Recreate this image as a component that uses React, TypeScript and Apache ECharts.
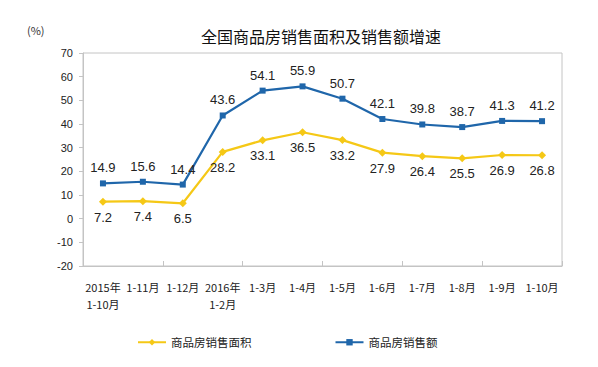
import React, { useEffect, useRef } from "react";
import * as echarts from "echarts";

const categories = ["2015年\n1-10月", "1-11月", "1-12月", "2016年\n1-2月", "1-3月", "1-4月", "1-5月", "1-6月", "1-7月", "1-8月", "1-9月", "1-10月"];
const areaGrowth = [7.2, 7.4, 6.5, 28.2, 33.1, 36.5, 33.2, 27.9, 26.4, 25.5, 26.9, 26.8];
const salesGrowth = [14.9, 15.6, 14.4, 43.6, 54.1, 55.9, 50.7, 42.1, 39.8, 38.7, 41.3, 41.2];
const titleText = "全国商品房销售面积及销售额增速";
const seriesNames = ["商品房销售面积", "商品房销售额"];

export default function App() {
  const ref = useRef<HTMLDivElement>(null);
  useEffect(() => {
    document.body.style.margin = "0";
    const chart = echarts.init(ref.current!, null, { renderer: "svg" });
    const font = "'Noto Sans CJK SC', sans-serif";
    const numFont = "'Liberation Sans', Arial, sans-serif";
    chart.setOption({
      animation: false,
      textStyle: { fontFamily: font },
      title: {
        text: titleText,
        left: 196,
        top: 23,
        textStyle: { fontSize: 16, fontWeight: "normal", color: "#111", fontFamily: font },
      },
      graphic: [
        { type: "text", left: 27, top: 24, style: { text: "(%)", fontSize: 11, fill: "#333", fontFamily: font } },
      ],
      legend: {
        bottom: 14,
        left: 132,
        itemGap: 83,
        itemWidth: 28,
        itemHeight: 8,
        textStyle: { fontSize: 11.5, color: "#222", fontFamily: font },
        data: [seriesNames[0], seriesNames[1]],
      },
      grid: {
        left: 83,
        right: 36,
        top: 53,
        bottom: 101,
        show: true,
        borderColor: "#c4c4c4",
        borderWidth: 1,
      },
      xAxis: [
        {
          type: "category",
          data: categories,
          position: "bottom",
          boundaryGap: true,
          axisLine: { show: false },
          axisTick: { show: false },
          axisLabel: { fontSize: 11, color: "#222", margin: 12, lineHeight: 17, interval: 0, fontFamily: font },
        },
        {
          type: "category",
          data: categories,
          position: "bottom",
          boundaryGap: true,
          axisLine: { show: true, onZero: true, lineStyle: { color: "#c4c4c4" } },
          axisTick: { show: true, inside: true, length: 5, lineStyle: { color: "#c4c4c4" } },
          axisLabel: { show: false },
        },
      ],
      yAxis: {
        type: "value",
        min: -20,
        max: 70,
        interval: 10,
        axisLine: { show: true, lineStyle: { color: "#c4c4c4" } },
        axisTick: { show: true, length: 4, lineStyle: { color: "#c4c4c4" } },
        axisLabel: { fontSize: 11, color: "#222", margin: 10, fontFamily: numFont },
        splitLine: { show: false },
      },
      series: [
        {
          name: seriesNames[0],
          type: "line",
          data: areaGrowth,
          symbol: "diamond",
          symbolSize: 8,
          itemStyle: { color: "#F5C816" },
          lineStyle: { color: "#F5C816", width: 2.2 },
          label: { show: true, position: "bottom", distance: 5, fontSize: 13, color: "#222", fontFamily: numFont },
        },
        {
          name: seriesNames[1],
          type: "line",
          data: salesGrowth,
          symbol: "rect",
          symbolSize: 6,
          itemStyle: { color: "#1F66AA" },
          lineStyle: { color: "#1F66AA", width: 2.2 },
          label: { show: true, position: "top", distance: 6, fontSize: 13, color: "#222", fontFamily: numFont },
        },
      ],
    });
    return () => chart.dispose();
  }, []);
  return <div ref={ref} style={{ width: 598, height: 367 }} />;
}
